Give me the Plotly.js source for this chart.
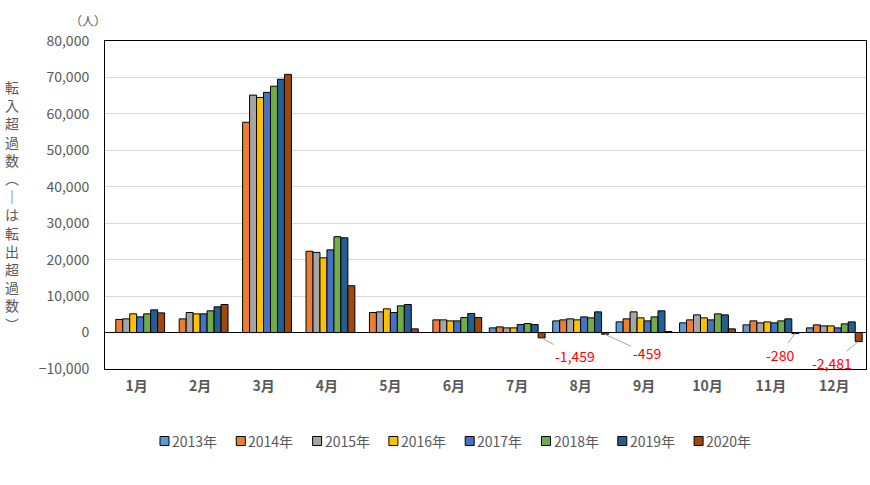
<!DOCTYPE html>
<html>
<head>
<meta charset="utf-8">
<script src="https://cdn.plot.ly/plotly-3.0.1.min.js"></script>
<style>
  html, body { margin: 0; padding: 0; background: #fff; }
  #chart { width: 870px; height: 485px; }
</style>
</head>
<body>
<div id="chart"></div>
<script>
const MONTHS = ['1月', '2月', '3月', '4月', '5月', '6月', '7月', '8月', '9月', '10月', '11月', '12月'];

const YEARS = ['2013年', '2014年', '2015年', '2016年', '2017年', '2018年', '2019年', '2020年'];

const Y2013 = [null, null, null, null, null, null, 1280, 3200, 2930, 2660, 2110, 1280];
const Y2014 = [3600, 3750, 57700, 22300, 5500, 3480, 1560, 3480, 3760, 3480, 3200, 2110];
const Y2015 = [3760, 5500, 65150, 22000, 5680, 3480, 1280, 3760, 5680, 4850, 2660, 1830];
const Y2016 = [5130, 5130, 64500, 20500, 6510, 3200, 1280, 3480, 4030, 4030, 2930, 1830];
const Y2017 = [4300, 5130, 65900, 22700, 5500, 3200, 2200, 4300, 3200, 3480, 2660, 1280];
const Y2018 = [5130, 5960, 67600, 26300, 7330, 4120, 2470, 4030, 4300, 5130, 3200, 2380];
const Y2019 = [6230, 7060, 69500, 26000, 7700, 5220, 2200, 5680, 5960, 4850, 3760, 2930];
const Y2020 = [5400, 7700, 70840, 12840, 1010, 4120, -1459, -459, 300, 1010, -280, -2481];

const SERIES = [Y2013, Y2014, Y2015, Y2016, Y2017, Y2018, Y2019, Y2020];
const COLORS = ['#5B9BD5', '#ED7D31', '#A5A5A5', '#FFC000', '#4472C4', '#70AD47', '#255E91', '#9E480E'];

// 2020 negatives that get a red call-out, with label offsets in px
const CALLOUTS = [
  {month: '7月', ax: 34, ay: 18},
  {month: '8月', ax: 42, ay: 19},
  {month: '11月', ax: -15, ay: 21},
  {month: '12月', ax: -26, ay: 21},
];

const FONT = '"Noto Sans CJK JP", "Noto Sans", sans-serif';
const GREY_TEXT = '#595959';

// plot area in px (for the hand-made legend and the titles)
const PLOT_L = 105, PLOT_W = 761, PLOT_B = 369, PLOT_H = 328;
const LEG_X0 = 160, LEG_STEP = 76.3, LEG_Y = 441;

let traces = SERIES.map((vals, i) => ({
  type: 'bar',
  name: YEARS[i],
  x: MONTHS,
  y: vals,
  marker: {color: COLORS[i], line: {color: '#000000', width: 1}},
  hoverinfo: 'x+y+name'
}));

let annotations = CALLOUTS.map(c => {
  let idx = MONTHS.indexOf(c.month);
  let v = Y2020[idx];
  return {
    x: c.month,
    y: v,
    xref: 'x',
    yref: 'y',
    xshift: 24,
    text: v.toLocaleString('en-US'),
    showarrow: true,
    arrowhead: 0,
    arrowwidth: 1,
    arrowcolor: '#A6A6A6',
    ax: c.ax,
    ay: c.ay,
    font: {family: FONT, size: 14, color: '#FF0000'}
  };
});

const Y_TITLE = ['転', '入', '超', '過', '数', '︵', '｜', 'は', '転', '出', '超', '過', '数', '︶'];

annotations.push({
  xref: 'paper', yref: 'paper',
  x: (12 - PLOT_L) / PLOT_W, y: 0.5,
  xanchor: 'center', yanchor: 'middle',
  text: Y_TITLE.join('<br>'),
  showarrow: false,
  font: {family: FONT, size: 14, color: GREY_TEXT}
});

annotations.push({
  xref: 'paper', yref: 'paper',
  x: (88 - PLOT_L) / PLOT_W, y: (PLOT_B - 20) / PLOT_H,
  xanchor: 'center', yanchor: 'middle',
  text: '（人）',
  showarrow: false,
  font: {family: FONT, size: 12, color: GREY_TEXT}
});

// legend drawn by hand so the spacing matches the original
let shapes = [];
let legY = (PLOT_B - LEG_Y) / PLOT_H;
YEARS.forEach((name, i) => {
  let px = (LEG_X0 + i * LEG_STEP - PLOT_L) / PLOT_W;
  shapes.push({
    type: 'rect',
    xref: 'paper', yref: 'paper',
    xsizemode: 'pixel', ysizemode: 'pixel',
    xanchor: px, yanchor: legY,
    x0: 0, x1: 9, y0: -4.5, y1: 4.5,
    fillcolor: COLORS[i],
    line: {color: '#000000', width: 1}
  });
  annotations.push({
    xref: 'paper', yref: 'paper',
    x: px, y: legY,
    xanchor: 'left', yanchor: 'middle',
    xshift: 10,
    text: name,
    showarrow: false,
    font: {family: FONT, size: 14, color: GREY_TEXT}
  });
});

const LAYOUT = {
  width: 870,
  height: 485,
  margin: {l: PLOT_L, r: 870 - PLOT_L - PLOT_W, t: PLOT_B - PLOT_H, b: 485 - PLOT_B, pad: 0},
  paper_bgcolor: '#ffffff',
  plot_bgcolor: '#ffffff',
  barmode: 'group',
  bargap: 0.12,
  bargroupgap: 0,
  font: {family: FONT, color: GREY_TEXT},
  xaxis: {
    type: 'category',
    showline: true,
    mirror: true,
    linecolor: '#000000',
    linewidth: 1,
    showgrid: false,
    ticks: '',
    ticklabelstandoff: 4,
    tickfont: {family: FONT, size: 14, color: GREY_TEXT, weight: 'bold'}
  },
  yaxis: {
    range: [-10000, 80000],
    dtick: 10000,
    tickformat: ',d',
    showline: true,
    mirror: true,
    linecolor: '#000000',
    linewidth: 1,
    gridcolor: '#D9D9D9',
    zeroline: true,
    zerolinecolor: '#000000',
    zerolinewidth: 1,
    ticks: '',
    ticklabelstandoff: 12,
    tickfont: {family: FONT, size: 14, color: GREY_TEXT}
  },
  shapes: shapes,
  annotations: annotations,
  showlegend: false
};

Plotly.newPlot('chart', traces, LAYOUT, {displayModeBar: false, staticPlot: true});
</script>
</body>
</html>
